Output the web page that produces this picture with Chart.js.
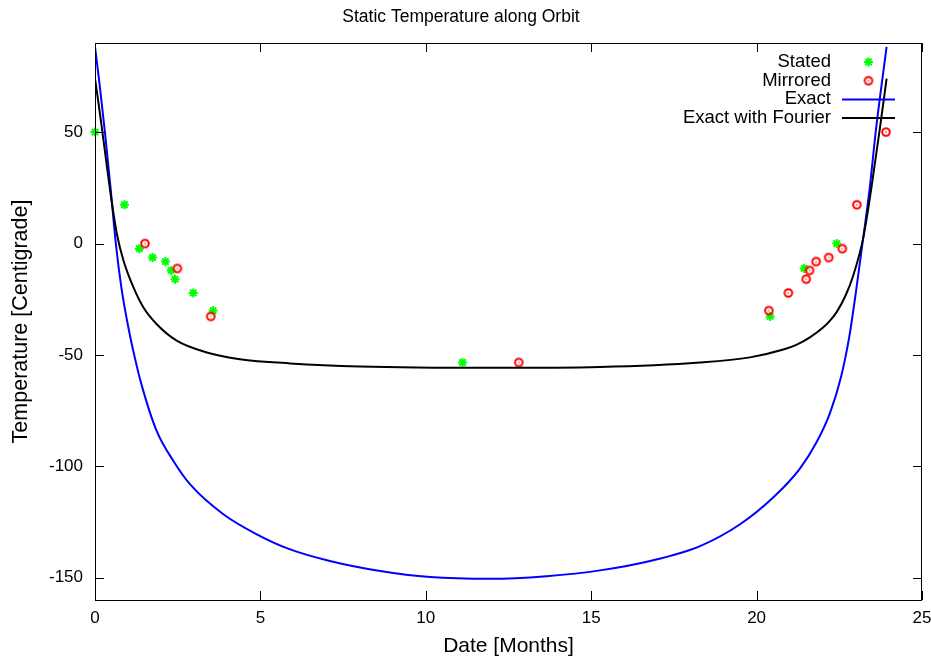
<!DOCTYPE html>
<html>
<head>
<meta charset="utf-8">
<script src="https://cdn.jsdelivr.net/npm/chart.js@4"></script>
<style>
  html, body { margin: 0; padding: 0; background: #fff; }
  #wrap { width: 931px; height: 662px; }
</style>
</head>
<body>
<div id="wrap"><canvas id="chart" width="931" height="662"></canvas></div>
<script>
// values
const X_TICKS = [0, 5, 10, 15, 20, 25];
const Y_TICKS = [-150, -100, -50, 0, 50];

const statedX = [0, 0.89, 1.34, 1.74, 2.13, 2.3, 2.42, 2.97, 3.57, 11.11, 20.41, 21.44, 22.42];
const statedY = [50, 17.4, -2.3, -6.3, -8.1, -12.1, -16, -22.2, -30.1, -53.4, -32.7, -11.2, 0];

const mirroredX = [1.51, 2.49, 3.5, 12.81, 20.37, 20.96, 21.5, 21.6, 21.8, 22.18, 22.59, 23.03, 23.91];
const mirroredY = [0, -11.2, -32.7, -53.4, -30.1, -22.2, -16, -12.1, -8.1, -6.3, -2.3, 17.4, 50];

const exactX = [0, 0.15, 0.3, 0.47, 0.63, 0.8, 1.0, 1.2, 1.4, 1.86, 2.37, 2.87, 3.88, 4.89, 5.9, 7.1, 8.62, 10.13, 11.95,
                13.65, 15.27, 16.78, 18.29, 19.5, 20.5, 21.31, 21.82, 22.22, 22.55, 22.8, 23.0, 23.2, 23.42, 23.6, 23.75, 23.93];
const exactY = [88.3, 70, 50, 25, 0, -20, -37, -51, -63, -84, -97.6, -108, -121.5, -130.5, -137.3, -142.5, -147, -149.7, -150.5,
                -149.3, -146.7, -142.5, -135.8, -126, -114, -101, -89, -76, -60, -42, -22, 0, 25, 50, 68, 88.3];

const fourierX = [0, 0.15, 0.35, 0.5, 0.66, 0.86, 1.16, 1.46, 1.86, 2.47, 3.38, 4.38, 5.9, 8, 11.95,
                  15.27, 18.29, 19.8, 20.81, 21.2, 21.61, 22.0, 22.22, 22.42, 22.7, 22.92, 23.23, 23.48, 23.73, 23.93];
const fourierY = [74, 58.3, 35.8, 19.3, 4.4, -7.6, -19.6, -28.6, -36.1, -43.6, -48.9, -51.9, -53.8, -55.2, -55.8,
                  -55.4, -53.4, -51.1, -47.6, -45.5, -42.1, -37.8, -34.6, -30.8, -23, -14.5, 3, 26, 52, 74];

function pairs(xs, ys) {
    return xs.map((x, i) => ({ x: x, y: ys[i] }));
}

// red circle with a dot in the middle (gnuplot style)
function makeCirclePoint() {
    const c = document.createElement('canvas');
    c.width = 12;
    c.height = 12;
    const g = c.getContext('2d');
    g.strokeStyle = '#ff0000';
    g.fillStyle = '#ff0000';
    g.lineWidth = 2;
    g.beginPath();
    g.arc(6, 6, 3.8, 0, Math.PI * 2);
    g.stroke();
    g.fillRect(5.4, 5.4, 1.2, 1.2);
    return c;
}
const circlePoint = makeCirclePoint();

const FONT = "'Liberation Sans', Arial, sans-serif";

// frame, inward ticks on all four sides, and the legend inside the plot
const framePlugin = {
    id: 'frame',
    afterDraw(chart) {
        const ctx = chart.ctx;
        const a = chart.chartArea;
        const xs = chart.scales.x, ys = chart.scales.y;
        ctx.save();
        ctx.strokeStyle = '#000';
        ctx.lineWidth = 1;
        ctx.beginPath();
        X_TICKS.forEach(v => {
            const px = Math.round(xs.getPixelForValue(v)) + 0.5;
            ctx.moveTo(px, a.bottom); ctx.lineTo(px, a.bottom - 9);
            ctx.moveTo(px, a.top); ctx.lineTo(px, a.top + 9);
        });
        Y_TICKS.forEach(v => {
            const py = Math.round(ys.getPixelForValue(v)) + 0.5;
            ctx.moveTo(a.left, py); ctx.lineTo(a.left + 9, py);
            ctx.moveTo(a.right, py); ctx.lineTo(a.right - 9, py);
        });
        ctx.stroke();
        ctx.strokeRect(Math.round(a.left) + 0.5, Math.round(a.top) + 0.5,
                       Math.round(a.right - a.left) - 1, Math.round(a.bottom - a.top));

        // legend
        const textRight = a.right - 91;
        const sx0 = a.right - 80, sx1 = a.right - 27;
        const mid = (sx0 + sx1) / 2;
        let y = a.top + 19;
        ctx.font = '18.5px ' + FONT;
        ctx.textAlign = 'right';
        ctx.textBaseline = 'middle';
        ctx.fillStyle = '#000';
        chart.data.datasets.forEach(ds => {
            ctx.fillText(ds.label, textRight, y);
            if (ds.showLine) {
                ctx.strokeStyle = ds.borderColor;
                ctx.lineWidth = ds.borderWidth;
                ctx.beginPath();
                ctx.moveTo(sx0, y); ctx.lineTo(sx1, y);
                ctx.stroke();
            } else if (ds.pointStyle === 'star') {
                ctx.strokeStyle = ds.borderColor;
                ctx.lineWidth = ds.borderWidth;
                ctx.beginPath();
                const r = ds.pointRadius;
                ctx.moveTo(mid - r, y); ctx.lineTo(mid + r, y);
                ctx.moveTo(mid, y - r); ctx.lineTo(mid, y + r);
                const d = r * Math.SQRT1_2;
                ctx.moveTo(mid - d, y - d); ctx.lineTo(mid + d, y + d);
                ctx.moveTo(mid - d, y + d); ctx.lineTo(mid + d, y - d);
                ctx.stroke();
            } else {
                ctx.drawImage(ds.pointStyle, mid - ds.pointStyle.width / 2, y - ds.pointStyle.height / 2);
            }
            y += 18.7;
        });
        ctx.restore();
    }
};

new Chart(document.getElementById('chart'), {
    type: 'scatter',
    data: {
        datasets: [
            {
                label: 'Stated',
                data: pairs(statedX, statedY),
                pointStyle: 'star',
                pointRadius: 4.5,
                borderWidth: 2,
                borderColor: '#00ff00',
                backgroundColor: '#00ff00',
                showLine: false,
                clip: false,
                order: 3
            },
            {
                label: 'Mirrored',
                data: pairs(mirroredX, mirroredY),
                pointStyle: circlePoint,
                pointRadius: 6,
                borderWidth: 2,
                borderColor: '#ff0000',
                backgroundColor: '#ff0000',
                showLine: false,
                order: 2
            },
            {
                label: 'Exact',
                data: pairs(exactX, exactY),
                showLine: true,
                borderColor: '#0000ff',
                borderWidth: 2,
                pointRadius: 0,
                cubicInterpolationMode: 'monotone',
                order: 1
            },
            {
                label: 'Exact with Fourier',
                data: pairs(fourierX, fourierY),
                showLine: true,
                borderColor: '#000000',
                borderWidth: 2,
                pointRadius: 0,
                cubicInterpolationMode: 'monotone',
                order: 0
            }
        ]
    },
    options: {
        responsive: false,
        animation: false,
        layout: { padding: { left: 0, right: 9, top: 0, bottom: 0 } },
        plugins: {
            legend: { display: false },
            tooltip: { enabled: false },
            title: {
                display: true,
                text: 'Static Temperature along Orbit',
                color: '#000',
                font: { family: FONT, size: 17.5, weight: 'normal', lineHeight: 1.2 },
                padding: { top: 7, bottom: 15 }
            }
        },
        scales: {
            x: {
                type: 'linear',
                min: 0,
                max: 25,
                afterBuildTicks: s => { s.ticks = X_TICKS.map(v => ({ value: v })); },
                afterFit: s => { s.height = 62; s.paddingLeft = 0; s.paddingRight = 0; },
                grid: { display: false, drawTicks: false },
                border: { display: false },
                ticks: { color: '#000', padding: 8, maxRotation: 0, font: { family: FONT, size: 17 } },
                title: {
                    display: true,
                    text: 'Date [Months]',
                    color: '#000',
                    font: { family: FONT, size: 21, lineHeight: 1.2 },
                    padding: { top: 0, bottom: 3 }
                }
            },
            y: {
                type: 'linear',
                min: -160,
                max: 90,
                afterBuildTicks: s => { s.ticks = Y_TICKS.map(v => ({ value: v })); },
                afterFit: s => { s.width = 95; },
                grid: { display: false, drawTicks: false },
                border: { display: false },
                ticks: { color: '#000', padding: 12, font: { family: FONT, size: 17 } },
                title: {
                    display: true,
                    text: 'Temperature [Centigrade]',
                    color: '#000',
                    font: { family: FONT, size: 21.5, lineHeight: 1.2 },
                    padding: { top: 8, bottom: 0 }
                }
            }
        }
    },
    plugins: [framePlugin]
});
</script>
</body>
</html>
